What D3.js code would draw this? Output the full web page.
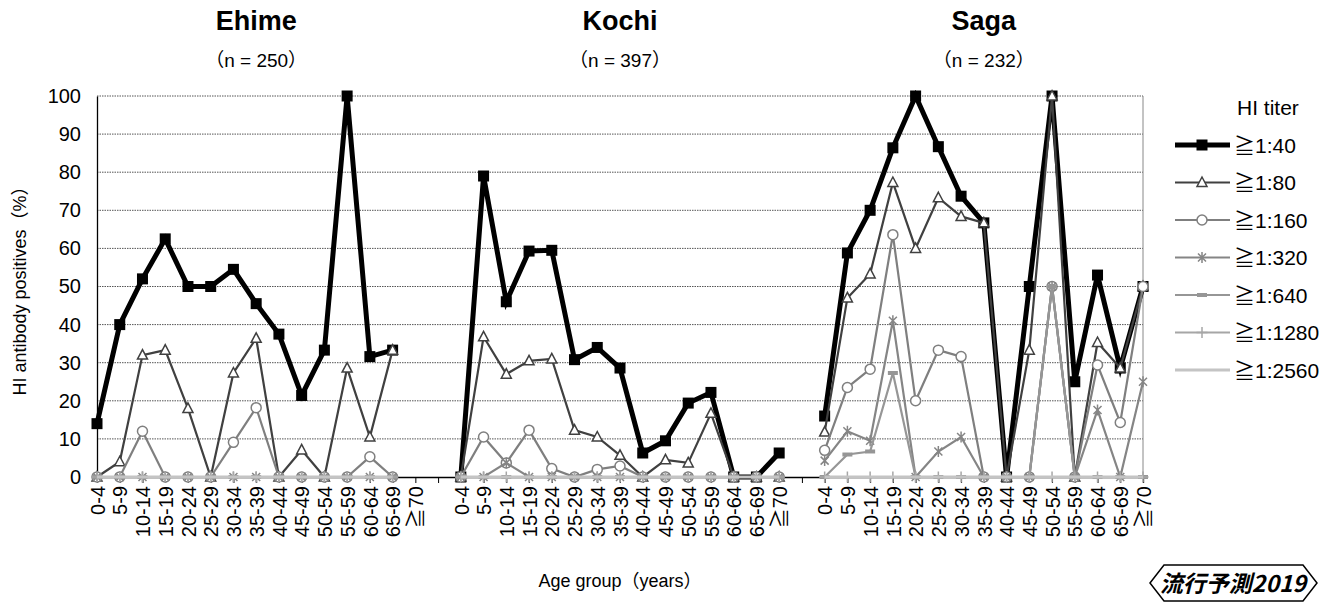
<!DOCTYPE html>
<html>
<head>
<meta charset="utf-8">
<script src="https://cdn.jsdelivr.net/npm/d3@7"></script>
<style>
  body { margin: 0; background: #fff; }
  svg { display: block; }
</style>
</head>
<body>
<script>
// categories
const ageGroups = ["0-4", "5-9", "10-14", "15-19", "20-24", "25-29", "30-34", "35-39",
  "40-44", "45-49", "50-54", "55-59", "60-64", "65-69", "≧70"];
const regions = ["Ehime", "Kochi", "Saga"];
const sampleSizes = [250, 397, 232];
const titers = ["≧1:40", "≧1:80", "≧1:160", "≧1:320", "≧1:640", "≧1:1280", "≧1:2560"];
const yTicks = [0, 10, 20, 30, 40, 50, 60, 70, 80, 90, 100];

// % positive, one row per titer (same order as titers)
const ehime = [
  [14, 40, 52, 62.5, 50, 50, 54.5, 45.5, 37.5, 21.4, 33.3, 100, 31.6, 33.3, null],
  [0, 4, 32, 33.3, 18, 0, 27.3, 36.4, 0, 7.1, 0, 28.6, 10.5, 33.3, null],
  [0, 0, 12, 0, 0, 0, 9.1, 18.2, 0, 0, 0, 0, 5.3, 0, null],
  [0, 0, 0, 0, 0, 0, 0, 0, 0, 0, 0, 0, 0, 0, null],
  [0, 0, 0, 0, 0, 0, 0, 0, 0, 0, 0, 0, 0, 0, null],
  [0, 0, 0, 0, 0, 0, 0, 0, 0, 0, 0, 0, 0, 0, null],
  [0, 0, 0, 0, 0, 0, 0, 0, 0, 0, 0, 0, 0, 0, null]
];
const kochi = [
  [0, 79, 46, 59.3, 59.5, 30.8, 34, 28.6, 6.3, 9.5, 19.4, 22.2, 0, 0, 6.3],
  [0, 36.8, 27, 30.5, 31, 12.3, 10.5, 5.7, 0, 4.5, 3.7, 16.7, 0, 0, 0],
  [0, 10.5, 3.7, 12.3, 2.2, 0, 2, 2.9, 0, 0, 0, 0, 0, 0, 0],
  [0, 0, 3.7, 0, 0, 0, 0, 0, 0, 0, 0, 0, 0, 0, 0],
  [0, 0, 0, 0, 0, 0, 0, 0, 0, 0, 0, 0, 0, 0, 0],
  [0, 0, 0, 0, 0, 0, 0, 0, 0, 0, 0, 0, 0, 0, 0],
  [0, 0, 0, 0, 0, 0, 0, 0, 0, 0, 0, 0, 0, 0, 0]
];
const saga = [
  [16, 58.8, 70, 86.4, 100, 86.7, 73.7, 66.7, 0, 50, 100, 25, 53, 28.6, 50],
  [11.8, 47, 53.3, 77.3, 60, 73.3, 68.4, 66.7, 0, 33.3, 100, 0, 35.3, 28.6, 50],
  [7, 23.5, 28.3, 63.6, 20, 33.3, 31.6, 0, 0, 0, 50, 0, 29.4, 14.3, 50],
  [4.3, 12, 9.5, 41, 0, 6.7, 10.5, 0, 0, 0, 50, 0, 17.6, 0, 25],
  [0, 5.9, 6.7, 27.3, 0, 0, 0, 0, 0, 0, 50, 0, 0, 0, 0],
  [0, 0, 0, 0, 0, 0, 0, 0, 0, 0, 0, 0, 0, 0, 0],
  [0, 0, 0, 0, 0, 0, 0, 0, 0, 0, 0, 0, 0, 0, 0]
];
const regionValues = [ehime, kochi, saga];

// look of each titer series
const seriesStyle = [
  {color: "#000000", width: 5, marker: "square"},
  {color: "#404040", width: 2.2, marker: "triangle"},
  {color: "#7f7f7f", width: 2.2, marker: "circle"},
  {color: "#858585", width: 2.2, marker: "asterisk"},
  {color: "#969696", width: 2.2, marker: "dash"},
  {color: "#a6a6a6", width: 2.2, marker: "plus"},
  {color: "#c4c4c4", width: 3, marker: "none"}
];

const W = 1342, H = 608;
const plot = {left: 97, right: 1143, top: 96, bottom: 477};
const font = "'Liberation Sans', Arial, 'Noto Sans CJK JP', sans-serif";

const svg = d3.select("body").append("svg")
  .attr("width", W)
  .attr("height", H)
  .style("font-family", font);

// one point per age group per region, plus an empty slot between regions
let keys = [];
regions.forEach((r, i) => {
  ageGroups.forEach(a => keys.push(r + "|" + a));
  if (i < regions.length - 1) keys.push("gap" + i);
});

const x = d3.scalePoint().domain(keys).range([plot.left, plot.right]).padding(0);
const y = d3.scaleLinear().domain([0, 100]).range([plot.bottom, plot.top]);

// gridlines (dotted)
svg.append("g").selectAll("line")
  .data(yTicks.filter(d => d > 0))
  .enter().append("line")
    .attr("x1", plot.left).attr("x2", plot.right)
    .attr("y1", d => y(d)).attr("y2", d => y(d))
    .attr("stroke", "#555")
    .attr("stroke-width", 1)
    .attr("stroke-dasharray", "1.5,1");

// right border of plot area
svg.append("line")
  .attr("x1", plot.right).attr("x2", plot.right)
  .attr("y1", plot.top).attr("y2", plot.bottom)
  .attr("stroke", "#888");

// y axis
const yAxis = svg.append("g")
  .attr("transform", "translate(" + plot.left + ",0)")
  .call(d3.axisLeft(y).tickValues(yTicks).tickSize(0).tickPadding(16));
yAxis.select(".domain").attr("stroke", "#000").attr("stroke-width", 1.3);
yAxis.selectAll("text").style("font-size", "20px").style("font-family", font).attr("fill", "#000");

// x axis
const xAxis = svg.append("g")
  .attr("transform", "translate(0," + plot.bottom + ")")
  .call(d3.axisBottom(x).tickSize(6)
    .tickFormat(k => k.indexOf("|") > 0 ? k.split("|")[1] : ""));
xAxis.select(".domain").attr("stroke", "#000").attr("stroke-width", 1.3);
xAxis.selectAll(".tick line").attr("stroke", "#000");
xAxis.selectAll("text")
  .style("font-size", "20px")
  .style("font-family", font)
  .attr("fill", "#000")
  .attr("transform", "rotate(-90)")
  .attr("x", -9)
  .attr("y", 0)
  .attr("dy", "0.36em")
  .style("text-anchor", "end");

// markers
function drawMarker(g, type, color) {
  if (type === "square") {
    g.append("rect").attr("x", -5.5).attr("y", -5.5).attr("width", 11).attr("height", 11).attr("fill", color);
  } else if (type === "triangle") {
    g.append("path").attr("d", "M0,-5.5L5,4L-5,4Z").attr("fill", "#fff").attr("stroke", color).attr("stroke-width", 1.5);
  } else if (type === "circle") {
    g.append("circle").attr("r", 5).attr("fill", "#fff").attr("stroke", color).attr("stroke-width", 1.5);
  } else if (type === "asterisk") {
    g.append("path").attr("d", "M-4,-4L4,4M-4,4L4,-4M0,-5.5V5.5").attr("stroke", color).attr("stroke-width", 1.5);
  } else if (type === "dash") {
    g.append("rect").attr("x", -5).attr("y", -2).attr("width", 10).attr("height", 4).attr("fill", color);
  } else if (type === "plus") {
    g.append("path").attr("d", "M-5.5,0H5.5M0,-5.5V5.5").attr("stroke", color).attr("stroke-width", 1.5);
  }
}

const line = d3.line()
  .defined(d => d.v != null)
  .x(d => x(d.k))
  .y(d => y(d.v));

// series drawn in order so the later titers sit on top
titers.forEach((t, si) => {
  const st = seriesStyle[si];
  const sg = svg.append("g");
  regions.forEach((r, ri) => {
    const pts = regionValues[ri][si].map((v, ai) => ({k: r + "|" + ageGroups[ai], v: v}));
    sg.append("path")
      .datum(pts)
      .attr("d", line)
      .attr("fill", "none")
      .attr("stroke", st.color)
      .attr("stroke-width", st.width)
      .attr("stroke-linejoin", "miter");
    pts.filter(d => d.v != null).forEach(d => {
      const mg = sg.append("g").attr("transform", "translate(" + x(d.k) + "," + y(d.v) + ")");
      drawMarker(mg, st.marker, st.color);
    });
  });
});

// region titles and sample sizes
regions.forEach((r, i) => {
  const cx = (x(r + "|" + ageGroups[0]) + x(r + "|" + ageGroups[ageGroups.length - 1])) / 2;
  svg.append("text")
    .attr("x", cx).attr("y", 30)
    .attr("text-anchor", "middle")
    .style("font-size", "27px")
    .style("font-weight", "bold")
    .text(r);
  svg.append("text")
    .attr("x", cx).attr("y", 67)
    .attr("text-anchor", "middle")
    .style("font-size", "19px")
    .text("（n = " + sampleSizes[i] + "）");
});

// axis titles
svg.append("text")
  .attr("transform", "translate(26," + ((plot.top + plot.bottom) / 2) + ")rotate(-90)")
  .attr("text-anchor", "middle")
  .style("font-size", "18px")
  .text("HI antibody positives（%）");

svg.append("text")
  .attr("x", x("Kochi|" + ageGroups[7])).attr("y", 587)
  .attr("text-anchor", "middle")
  .style("font-size", "18px")
  .text("Age group（years）");

// legend
const legend = svg.append("g");
legend.append("text")
  .attr("x", 1237).attr("y", 115)
  .style("font-size", "21px")
  .text("HI titer");
titers.forEach((t, i) => {
  const st = seriesStyle[i];
  const ly = 145 + i * 37.5;
  legend.append("line")
    .attr("x1", 1175).attr("x2", 1230)
    .attr("y1", ly).attr("y2", ly)
    .attr("stroke", st.color)
    .attr("stroke-width", st.width);
  drawMarker(legend.append("g").attr("transform", "translate(1202," + ly + ")"), st.marker, st.color);
  legend.append("text")
    .attr("x", 1234).attr("y", ly + 7.5)
    .style("font-size", "21px")
    .text(t);
});

// badge bottom right
svg.append("path")
  .attr("d", "M1150,583L1164,565L1303,565L1317,583L1303,601L1164,601Z")
  .attr("fill", "#fff")
  .attr("stroke", "#000")
  .attr("stroke-width", 1.5);
svg.append("text")
  .attr("x", 1233).attr("y", 592)
  .attr("text-anchor", "middle")
  .style("font-family", "'Noto Sans CJK JP', sans-serif")
  .style("font-size", "23px")
  .style("font-weight", "bold")
  .style("font-style", "italic")
  .text("流行予測2019");
</script>
</body>
</html>
